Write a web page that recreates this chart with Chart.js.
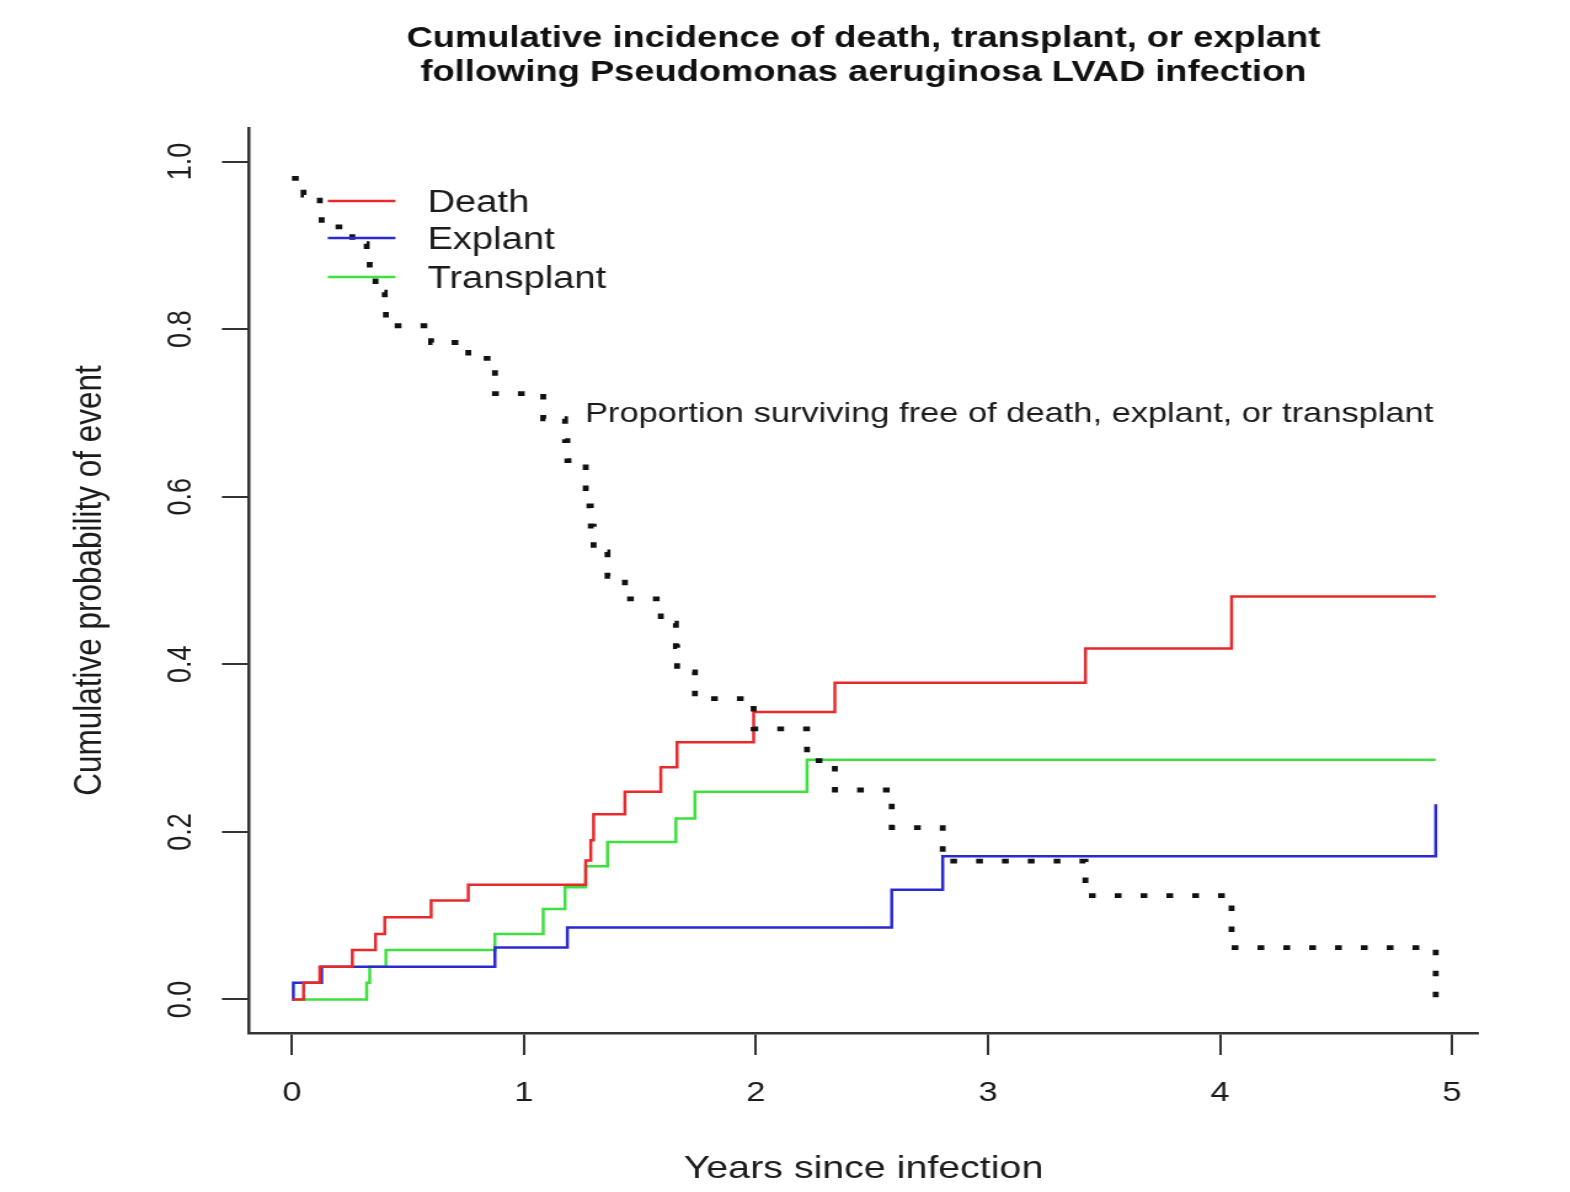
<!DOCTYPE html>
<html>
<head>
<meta charset="utf-8">
<script src="https://cdn.jsdelivr.net/npm/chart.js@4.4.1/dist/chart.umd.min.js"></script>
<style>
  html, body { margin: 0; padding: 0; background: #fff; overflow: hidden; }
  /* the reference is a horizontally stretched R plot, so draw narrow and stretch */
  #wrap { width: 1276px; height: 1192px; transform: scaleX(1.2304); transform-origin: 0 0; }
</style>
</head>
<body>
<div id="wrap"><canvas id="cif"></canvas></div>
<script>
// years since infection / cumulative incidence
const deathTimes  = [0, 0.05, 0.12, 0.26, 0.36, 0.40, 0.60, 0.76, 1.266, 1.288, 1.30, 1.435, 1.59, 1.66, 1.99, 2.34, 3.42, 4.05, 4.93];
const deathValues = [0, 0.020, 0.039, 0.059, 0.078, 0.098, 0.118, 0.137, 0.166, 0.190, 0.221, 0.248, 0.277, 0.307, 0.343, 0.378, 0.419, 0.481, 0.481];

const explantTimes  = [0, 0.006, 0.128, 0.875, 1.187, 2.585, 2.805, 4.93];
const explantValues = [0, 0.020, 0.039, 0.062, 0.086, 0.131, 0.171, 0.233];

const transplantTimes  = [0, 0.322, 0.335, 0.405, 0.875, 1.083, 1.177, 1.266, 1.36, 1.655, 1.737, 2.22, 4.93];
const transplantValues = [0, 0.020, 0.039, 0.059, 0.078, 0.108, 0.134, 0.159, 0.188, 0.216, 0.248, 0.286, 0.286];

const freeTimes  = [0, 0.05, 0.12, 0.128, 0.26, 0.322, 0.335, 0.36, 0.40, 0.405, 0.60, 0.76, 0.875, 1.083, 1.177, 1.187, 1.266, 1.288, 1.30, 1.36, 1.435, 1.59, 1.655, 1.66, 1.737, 1.99, 2.22, 2.34, 2.585, 2.805, 3.42, 4.05, 4.93];
const freeValues = [0.98, 0.96, 0.941, 0.922, 0.902, 0.882, 0.863, 0.844, 0.824, 0.804, 0.784, 0.765, 0.723, 0.693, 0.667, 0.643, 0.589, 0.565, 0.534, 0.505, 0.478, 0.449, 0.421, 0.391, 0.359, 0.323, 0.285, 0.25, 0.205, 0.165, 0.124, 0.062, 0.0];

const xTicks = [0, 1, 2, 3, 4, 5];
const yTicks = [0, 0.2, 0.4, 0.6, 0.8, 1.0];

const seriesNames = ["Death", "Explant", "Transplant"];
const seriesColors = ["#e8292c", "#2a2ad0", "#3ee03e"];
const freeLabel = "Proportion surviving free of death, explant, or transplant";

const ink = "#1c1c1c";
Chart.defaults.font.family = '"Liberation Sans", Arial, sans-serif';
Chart.defaults.color = ink;

function pts(times, values) {
  return times.map((t, i) => ({ x: t, y: values[i] }));
}

const extras = {
  id: "extras",
  afterDraw(chart) {
    const ctx = chart.ctx;
    const xs = chart.scales.x, ys = chart.scales.y;
    const area = chart.chartArea;
    ctx.save();
    ctx.fillStyle = ink;

    // y tick labels, rotated like R's las = 0
    ctx.font = '27px "Liberation Sans", Arial, sans-serif';
    ctx.textAlign = "center";
    ctx.textBaseline = "middle";
    yTicks.forEach(v => {
      ctx.save();
      ctx.translate(148, ys.getPixelForValue(v));
      ctx.rotate(-Math.PI / 2);
      ctx.fillText(v.toFixed(1), 0, 0);
      ctx.restore();
    });

    // label for the dotted curve
    ctx.font = '28px "Liberation Sans", Arial, sans-serif';
    ctx.textAlign = "left";
    ctx.fillText(freeLabel, xs.getPixelForValue(1.263), ys.getPixelForValue(0.698));

    // legend, top left inside the plot
    ctx.font = '31px "Liberation Sans", Arial, sans-serif';
    ctx.lineWidth = 2.5;
    const rows = [202, 239, 278];
    seriesNames.forEach((name, i) => {
      ctx.strokeStyle = seriesColors[i];
      ctx.beginPath();
      ctx.moveTo(area.left + 64, rows[i] - 1);
      ctx.lineTo(area.left + 119, rows[i] - 1);
      ctx.stroke();
      ctx.fillText(name, area.left + 145, rows[i] + 1);
    });
    ctx.restore();
  }
};

new Chart(document.getElementById("cif"), {
  type: "line",
  data: {
    datasets: [
      {
        label: "Free of event",
        data: pts(freeTimes, freeValues),
        borderColor: "#111",
        borderWidth: 4.8,
        borderDash: [5.5, 15.5],
        stepped: "before",
        pointRadius: 0
      },
      {
        label: seriesNames[0],
        data: pts(deathTimes, deathValues),
        borderColor: seriesColors[0],
        borderWidth: 2.5,
        stepped: "before",
        pointRadius: 0
      },
      {
        label: seriesNames[1],
        data: pts(explantTimes, explantValues),
        borderColor: seriesColors[1],
        borderWidth: 2.5,
        stepped: "before",
        pointRadius: 0
      },
      {
        label: seriesNames[2],
        data: pts(transplantTimes, transplantValues),
        borderColor: seriesColors[2],
        borderWidth: 2.5,
        stepped: "before",
        pointRadius: 0
      }
    ]
  },
  options: {
    responsive: true,
    maintainAspectRatio: false,
    animation: false,
    events: [],
    layout: { padding: { left: 0, right: 74.8, top: 0, bottom: 0 } },
    plugins: {
      legend: { display: false },
      tooltip: { enabled: false },
      title: {
        display: true,
        fullSize: false,
        text: ["Cumulative incidence of death, transplant, or explant",
               "following Pseudomonas aeruginosa LVAD infection"],
        color: "#111",
        font: { size: 29.5, weight: "bold", lineHeight: "34px" },
        padding: { top: 22, bottom: 38 }
      }
    },
    scales: {
      x: {
        type: "linear",
        min: -0.185,
        max: 5.112,
        afterBuildTicks: s => { s.ticks = xTicks.map(v => ({ value: v })); },
        afterFit: s => { s.height = 159; },
        ticks: { font: { size: 28 }, padding: 21, callback: v => String(v) },
        grid: { display: true, drawOnChartArea: false, drawTicks: true, tickLength: 22, lineWidth: 2, color: "#333" },
        border: { display: true, width: 2.5, color: "#333" },
        title: { display: true, text: "Years since infection", font: { size: 32 }, padding: { top: 0, bottom: 4 } }
      },
      y: {
        type: "linear",
        min: -0.04,
        max: 1.04,
        afterBuildTicks: s => { s.ticks = yTicks.map(v => ({ value: v })); },
        afterFit: s => { s.width = 202.4; },
        ticks: { display: false },
        grid: { display: true, drawOnChartArea: false, drawTicks: true, tickLength: 22, lineWidth: 2, color: "#333" },
        border: { display: true, width: 2.5, color: "#333" },
        title: { display: true, text: "Cumulative probability of event", font: { size: 31.5 }, padding: { top: 54, bottom: 0 } }
      }
    }
  },
  plugins: [extras]
});
</script>
</body>
</html>
